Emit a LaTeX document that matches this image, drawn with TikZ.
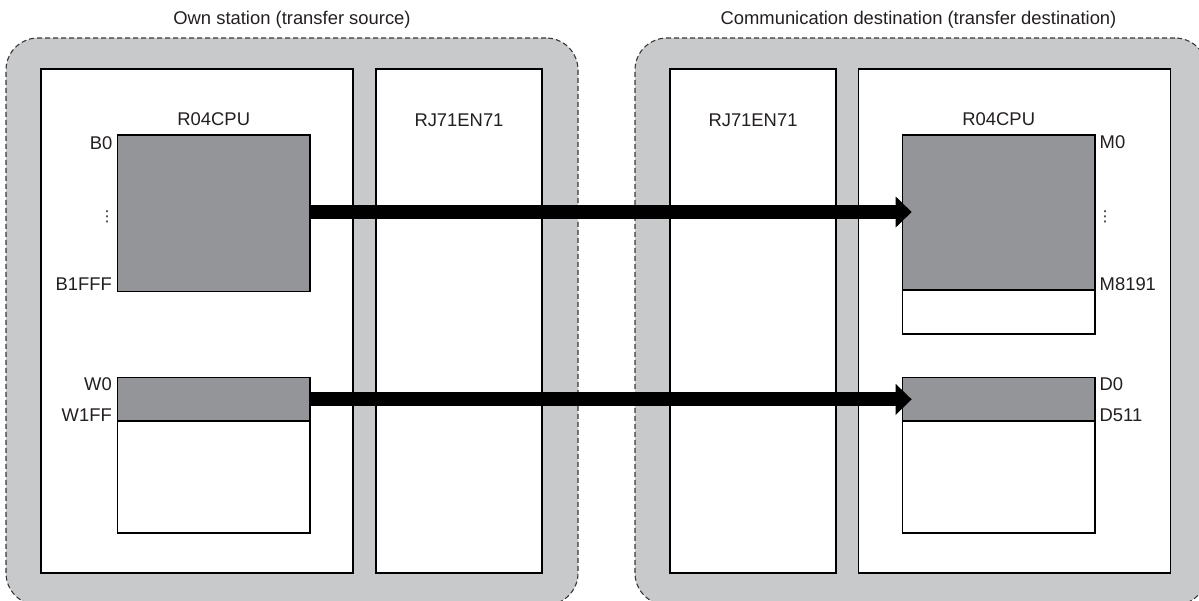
\documentclass[tikz,border=0pt]{standalone}
\usepackage{fontspec}
\setmainfont{Liberation Sans}
\newfontfamily\symfont{DejaVu Sans}
\usetikzlibrary{arrows.meta}
\definecolor{outerfill}{RGB}{200,201,203}
\definecolor{blockgray}{RGB}{147,149,152}
\definecolor{txt}{RGB}{35,31,32}
\definecolor{dashcol}{RGB}{55,55,57}
\begin{document}
\begin{tikzpicture}[x=1pt,y=-1pt,
  station/.style={draw=dashcol, line width=1.1pt, dash pattern=on 5pt off 3pt, fill=outerfill, rounded corners=32pt, rectangle, inner sep=0pt, minimum width=572pt, minimum height=567pt},
  unit/.style={draw=black, line width=1.2pt, fill=white, rectangle, inner sep=0pt, minimum width=#1, minimum height=504pt},
  memwhite/.style={draw=black, line width=1.2pt, fill=white, rectangle, inner sep=0pt, minimum width=192.5pt},
  memgray/.style={draw=black, line width=1.2pt, fill=blockgray, rectangle, inner sep=0pt, minimum width=192.5pt},
  lbl/.style={text=txt, inner sep=0pt, font=\fontsize{18.4}{22}\selectfont},
  dots/.style={text=txt, inner sep=0pt, font=\symfont\fontsize{15}{18}\selectfont},
  transfer/.style={line width=14pt, -{Triangle[length=16pt,width=30pt]}}
]
\useasboundingbox (0,0) rectangle (1199,600);
\clip (0,0) rectangle (1199,600);

% stations
\node[station] (own) at (292,321.5) {};
\node[station] (dest) at (921,321.5) {};

% titles
\node[lbl, anchor=base] (owntitle) at (292,24.5) {Own station (transfer source)};
\node[lbl, anchor=base] (desttitle) at (918.5,24.5) {Communication destination (transfer destination)};

% units
\node[unit=312pt] (cpuL) at (197,321) {};
\node[unit=166pt] (rjL) at (459,321) {};
\node[unit=166pt] (rjR) at (753,321) {};
\node[unit=312pt] (cpuR) at (1014.5,321) {};

\node[lbl, anchor=base] (cpuLt) at (213.75,125.7) {R04CPU};
\node[lbl, anchor=base] (rjLt) at (459,126) {RJ71EN71};
\node[lbl, anchor=base] (rjRt) at (753,126) {RJ71EN71};
\node[lbl, anchor=base] (cpuRt) at (998.75,125.7) {R04CPU};

% source memory
\node[memgray, minimum height=156.7pt] (Bblk) at (213.75,213.35) {};
\node[memwhite, minimum height=155.3pt] (Wall) at (213.75,455.35) {};
\node[memgray, minimum height=43.3pt] (Wblk) at (213.75,399.35) {};

% destination memory
\node[memwhite, minimum height=199pt] (Mall) at (998.75,234.5) {};
\node[memgray, minimum height=155pt] (Mblk) at (998.75,212.5) {};
\node[memwhite, minimum height=155.3pt] (Dall) at (998.75,455.35) {};
\node[memgray, minimum height=43.3pt] (Dblk) at (998.75,399.35) {};

% address labels
\node[lbl, anchor=north east] (b0) at (112.5,136) {B0};
\node[dots] (bdots) at (107,216.5) {⋮};
\node[lbl, anchor=base east] (b1fff) at (112,290.7) {B1FFF};
\node[lbl, anchor=north east] (w0) at (112,377.7) {W0};
\node[lbl, anchor=base east] (w1ff) at (112,421) {W1FF};

\node[lbl, anchor=north west] (m0) at (1099.5,135.5) {M0};
\node[dots] (mdots) at (1105,216.5) {⋮};
\node[lbl, anchor=base west] (m8191) at (1099.5,290.7) {M8191};
\node[lbl, anchor=north west] (d0) at (1099.5,377.7) {D0};
\node[lbl, anchor=base west] (d511) at (1099.5,421) {D511};

% transfer arrows
\coordinate (tipx) at (911.7,0);
\draw[transfer] (Bblk.east |- 0,212) -- (tipx |- 0,212);
\draw[transfer] (Wblk.east) -- (tipx |- Wblk.east);
\end{tikzpicture}
\end{document}
